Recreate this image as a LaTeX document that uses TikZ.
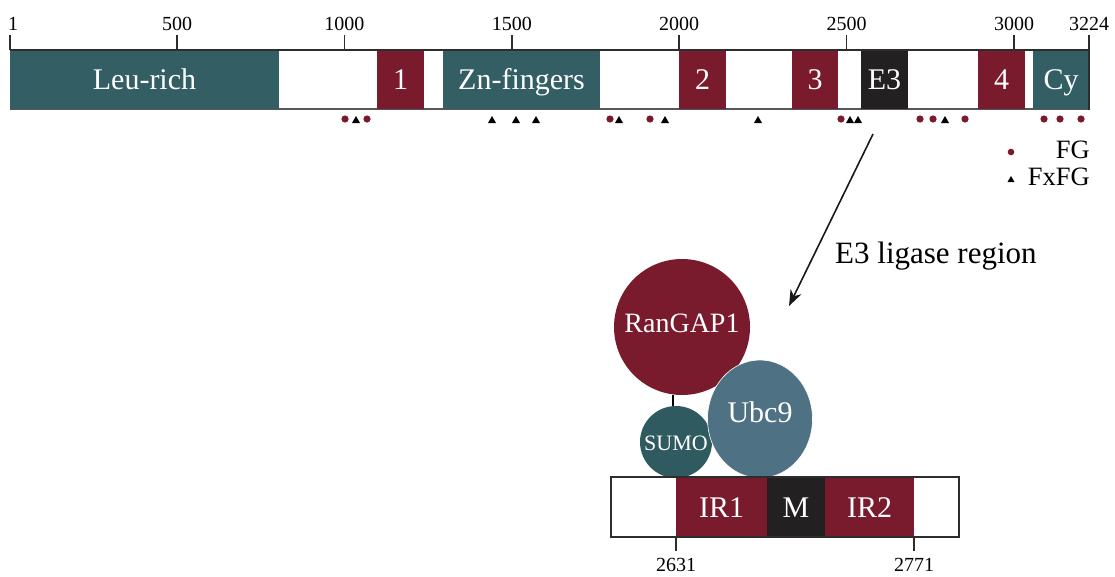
\documentclass[tikz,border=0pt]{standalone}
\usepackage{fontspec}
\setmainfont{Liberation Serif}
\usetikzlibrary{arrows.meta,calc,shapes.geometric}
\definecolor{tealA}{RGB}{50,94,100}
\definecolor{crim}{RGB}{122,27,45}
\definecolor{darkbox}{RGB}{34,32,33}
\definecolor{ubcc}{RGB}{78,114,131}
\definecolor{sumoc}{RGB}{47,91,96}
\definecolor{linec}{RGB}{45,45,45}
\newcommand\segbox[6]{\node[seg, fill=#4, minimum width={#3-#2}] (#1) at ({(#2+#3)/2},#6) {#5};}
\begin{document}
\begin{tikzpicture}[x=1pt,y=-1pt,
  seg/.style={rectangle, inner sep=0pt, outer sep=0pt, minimum height=59pt, text=white,
    font=\fontsize{30}{35}\selectfont, text height=20pt, text depth=0pt},
  ticklab/.style={font=\fontsize{20}{24}\selectfont, inner sep=0pt, anchor=base},
  tickline/.style={draw=linec, line width=1.5pt},
  dotmark/.style={fill=crim},
  trimark/.style={fill=black},
  arr/.style={draw=black!90, line width=1.6pt, -{Stealth[length=16pt,width=12pt,inset=5pt]}},
  ball/.style={circle, inner sep=0pt, outer sep=0pt},
  balltext/.style={text=white, inner sep=0pt, anchor=base},
]
\useasboundingbox (0,0) rectangle (1115,576);

% ---------- main bar ----------
\draw[draw=linec!80, line width=1.2pt] (10,109) -- (1089,109);
\segbox{leu}{10}{279}{tealA}{Leu-rich}{79.5}
\segbox{fg1}{377}{424}{crim}{1}{79.5}
\segbox{zn}{443}{600}{tealA}{Zn-fingers}{79.5}
\segbox{fg2}{679}{726}{crim}{2}{79.5}
\segbox{fg3}{792}{838}{crim}{3}{79.5}
\segbox{e3}{861}{908}{darkbox}{E3}{79.5}
\segbox{fg4}{978}{1025}{crim}{4}{79.5}
\segbox{cy}{1033}{1089}{tealA}{Cy}{79.5}
\draw[tickline] (10,50) -- (1089,50);

% ticks
\draw[tickline] (10,35) -- (10,50);
\node[ticklab, anchor=base west] (t1) at (8,30) {1};
\foreach \n in {500,1000,1500,2000,2500,3000}{
  \pgfmathsetmacro\xx{10+(\n-1)*0.33478}
  \draw[tickline] (\xx,35) -- (\xx,50);
  \node[ticklab] (t\n) at (\xx,30) {\n};
}
\draw[tickline] (1089,35) -- (1089,109.5);
\node[ticklab] (t3224) at (1089,30) {3224};

% motif markers
\foreach \x in {345,367,610,650,841,920,933,965,1044,1060,1081}{
  \fill[dotmark] (\x,119) circle (3.6);
}
\foreach \x in {356,492,516,536,619,665,758,850,858,945}{
  \fill[trimark] (\x-4,123) -- (\x+4,123) -- (\x,116) -- cycle;
}

% legend
\fill[dotmark] (1011,152) circle (3.3);
\fill[trimark] (1007.5,182) -- (1014.5,182) -- (1011,176) -- cycle;
\node[font=\fontsize{26.5}{30}\selectfont, inner sep=0pt, anchor=base east] (lfg) at (1090,158) {FG};
\node[font=\fontsize{26.5}{30}\selectfont, inner sep=0pt, anchor=base east] (lfxfg) at (1090,185) {FxFG};

% arrow
\coordinate (arrS) at (873,134);
\coordinate (arrE) at (789,306);
\draw[arr] (arrS) -- (arrE);
\node[font=\fontsize{31}{36}\selectfont, inner sep=0pt, anchor=base west] (e3lab) at (835,263) {E3 ligase region};

% ---------- complex ----------
\node[ball, fill=crim, minimum size=136pt] (rangap) at (682,327) {};
\node[balltext, font=\fontsize{28}{33}\selectfont] (rangapt) at (682,332) {RanGAP1};
\node[ball, fill=sumoc, minimum size=72pt] (sumo) at (676,442) {};
\node[balltext, font=\fontsize{22}{26}\selectfont] (sumot) at (676,450) {SUMO};
\draw[draw=black, line width=1.3pt] ($(sumo.north)+(-3,0)$) -- ($(sumo.north |- rangap.south)+(-3,0)$);
\node[ellipse, inner sep=0pt, outer sep=0pt, fill=ubcc, draw=white, line width=0.6pt,
      minimum width=105pt, minimum height=118pt] (ubc) at (760,419) {};
\node[balltext, font=\fontsize{30}{35}\selectfont] (ubct) at (760,422) {Ubc9};

% bottom bar
\node[rectangle, fill=white, minimum width=348pt, minimum height=60pt,
      inner sep=0pt, outer sep=0pt] (ebar) at (785,507) {};
\segbox{ir1}{676}{767}{crim}{IR1}{507}
\segbox{mid}{767}{825}{darkbox}{M}{507}
\segbox{ir2}{825}{914}{crim}{IR2}{507}
\draw[draw=linec, line width=1.5pt] (ebar.north west) rectangle (ebar.south east);
\draw[tickline] (ir1.south west) -- ++(0,14);
\draw[tickline] (ir2.south east) -- ++(0,14);
\node[ticklab] (b2631) at ($(ir1.south west)+(0,35)$) {2631};
\node[ticklab] (b2771) at ($(ir2.south east)+(0,35)$) {2771};
\end{tikzpicture}
\end{document}
